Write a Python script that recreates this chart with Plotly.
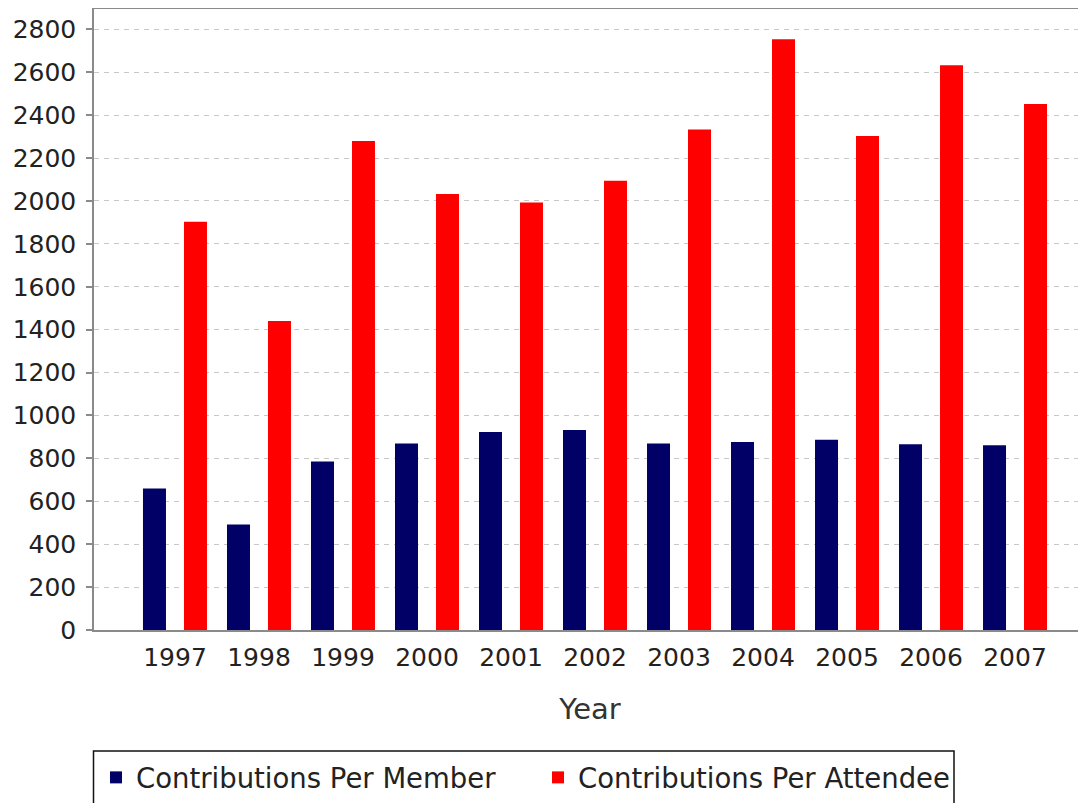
import plotly.graph_objects as go

years = ["1997", "1998", "1999", "2000", "2001", "2002", "2003", "2004", "2005", "2006", "2007"]
per_member = [660, 492, 786, 870, 923, 932, 870, 877, 887, 866, 861]
per_attendee = [1903, 1440, 2280, 2032, 1993, 2094, 2333, 2754, 2303, 2633, 2452]
series_names = ["Contributions Per Member", "Contributions Per Attendee"]
series_colors = ["#000066", "#ff0000"]
y_ticks = list(range(0, 2801, 200))

# page body has an 8px margin; figure placed at page (8, 8)
OFF = 8
W, H = 1086 - OFF, 803 - OFF
ML, MR, MT = 94 - OFF, 0, 1
MB = H - (630 - OFF)
pw, ph = W - ML - MR, H - MT - MB


def px_x(p):
    return (p - OFF - ML) / pw


def px_y(p):
    return (H - MB - (p - OFF)) / ph


fig = go.Figure()
for name, vals, col in zip(series_names, [per_member, per_attendee], series_colors):
    fig.add_trace(go.Bar(x=years, y=vals, name=name, marker=dict(color=col, line=dict(width=0))))

axis_gray = "#8a8a8a"
fig.update_layout(
    width=W, height=H,
    margin=dict(l=ML, r=MR, t=MT, b=MB, pad=0),
    paper_bgcolor="white", plot_bgcolor="white",
    barmode="group", bargap=0.024, bargroupgap=0.439,
    font=dict(family="DejaVu Sans", color="#222222"),
    xaxis=dict(
        type="category", range=[-0.964, 10.845],
        showline=True, linecolor=axis_gray, linewidth=1.5, mirror=True,
        showgrid=False, ticks="", tickfont=dict(size=25, color="#222222"),
        ticklabelstandoff=4,
        title=dict(text="Year", font=dict(size=29, color="#333333"), standoff=28),
    ),
    yaxis=dict(
        range=[0, 2895], tickvals=y_ticks, ticktext=[str(v) for v in y_ticks],
        showline=True, linecolor=axis_gray, linewidth=1.5, mirror=False,
        ticks="outside", ticklen=6, tickcolor=axis_gray, tickwidth=1.5,
        tickfont=dict(size=25, color="#222222"), ticklabelstandoff=5,
        showgrid=True, gridcolor="#c8c8c8", griddash="5px,5px", gridwidth=1,
        zeroline=False,
    ),
    legend=dict(
        orientation="h", x=px_x(96), y=px_y(753), xanchor="left", yanchor="top",
        font=dict(size=27.5, color="#222222"), bgcolor="rgba(0,0,0,0)", borderwidth=0,
        itemwidth=30, tracegroupgap=0, entrywidth=397, entrywidthmode="pixels",
    ),
    shapes=[dict(
        type="rect", xref="paper", yref="paper",
        x0=px_x(93.5), x1=px_x(954), y0=px_y(751), y1=px_y(830),
        line=dict(color="#111111", width=1.5), fillcolor="rgba(0,0,0,0)",
    )],
)

fig.write_html("out.html")
